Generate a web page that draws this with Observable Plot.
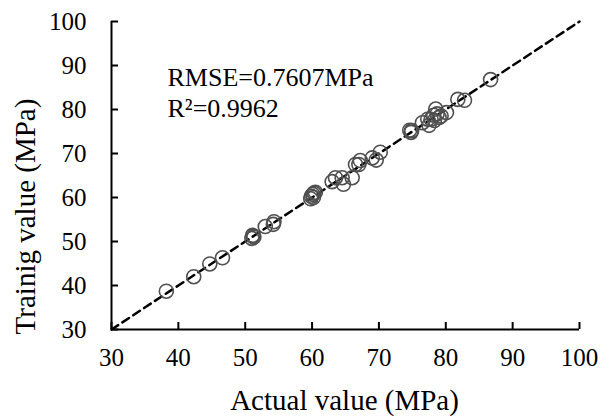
<!DOCTYPE html>
<html>
<head>
<meta charset="utf-8">
<script src="https://cdn.jsdelivr.net/npm/d3@7"></script>
<script src="https://cdn.jsdelivr.net/npm/@observablehq/plot@0.6"></script>
<style>
  html, body { margin: 0; padding: 0; background: #fff; }
  #chart { width: 603px; height: 417px; }
  svg { font-family: "Liberation Serif", "Times New Roman", serif; }
</style>
</head>
<body>
<div id="chart"></div>
<script>
const actual = [38.2, 42.3, 44.7, 46.6, 51.0, 51.2, 51.1, 51.3, 53.0, 54.2, 54.3,
  59.8, 59.9, 60.1, 60.3, 60.5, 60.2, 63.0, 63.5, 64.5, 64.7, 66.0, 66.5, 67.2, 67.0,
  69.0, 69.6, 70.2, 74.6, 74.8, 74.9, 76.5, 77.5, 77.8, 78.2, 78.5, 78.7, 79.0, 79.3,
  80.1, 77.3, 78.3, 81.8, 82.8, 86.7];
const training = [38.7, 42.0, 44.9, 46.3, 50.7, 51.2, 51.4, 51.0, 53.4, 53.9, 54.5,
  59.7, 60.3, 60.7, 61.0, 61.2, 60.0, 63.6, 64.5, 64.5, 63.0, 64.5, 67.5, 68.4, 67.5,
  69.0, 68.5, 70.3, 75.3, 74.8, 75.2, 77.0, 76.4, 77.8, 78.7, 80.1, 79.0, 78.2, 78.5,
  79.3, 77.8, 77.5, 82.3, 82.1, 86.8];
const xTicks = [30, 40, 50, 60, 70, 80, 90, 100];
const yTicks = [30, 40, 50, 60, 70, 80, 90, 100];
const refLine = [30, 100];
const annotations = ["RMSE=0.7607MPa", "R²=0.9962"];
const xLabel = "Actual value (MPa)";
const yLabel = "Trainig value (MPa)";

const points = actual.map((a, i) => ({a, t: training[i]}));

const W = 603, H = 417;
const mL = 111, mR = 24, mT = 21, mB = 88;
const pw = W - mL - mR, ph = H - mT - mB;

const chart = Plot.plot({
  width: W, height: H,
  marginLeft: mL, marginRight: mR, marginTop: mT, marginBottom: mB,
  style: {fontFamily: '"Liberation Serif", "Times New Roman", serif', background: "#fff", overflow: "visible"},
  x: {domain: [30, 100]},
  y: {domain: [30, 100]},
  marks: [
    Plot.line(refLine.map(v => ({v})), {x: "v", y: "v", stroke: "#000", strokeWidth: 2.5, strokeDasharray: "8,5"}),
    Plot.dot(points, {x: "a", y: "t", r: 7, stroke: "#505050", strokeWidth: 1.6, fill: "none"}),
    Plot.ruleX([30], {stroke: "#000", strokeWidth: 2}),
    Plot.ruleY([30], {stroke: "#000", strokeWidth: 2}),
    Plot.tickX(xTicks, {x: d => d, stroke: "#000", strokeWidth: 2, insetTop: ph - 7}),
    Plot.tickY(yTicks, {y: d => d, stroke: "#000", strokeWidth: 2, insetRight: pw - 7}),
    Plot.axisX({ticks: xTicks, tickSize: 0, tickPadding: 19, fontSize: 25, label: null, fill: "#000"}),
    Plot.axisY({ticks: yTicks, tickSize: 0, tickPadding: 25, fontSize: 25, label: null, fill: "#000"}),
    Plot.text([annotations[0]], {frameAnchor: "top-left", dx: 56, dy: 64, text: d => d, fontSize: 26, textAnchor: "start", lineAnchor: "bottom", fill: "#000"}),
    Plot.text([annotations[1]], {frameAnchor: "top-left", dx: 56, dy: 95, text: d => d, fontSize: 26, textAnchor: "start", lineAnchor: "bottom", fill: "#000"}),
    Plot.text([xLabel], {frameAnchor: "bottom", dx: 344 - (mL + pw / 2), dy: 80, text: d => d, fontSize: 29, textAnchor: "middle", lineAnchor: "bottom", fill: "#000"}),
    Plot.text([yLabel], {frameAnchor: "top-left", dx: -86, dy: 216 - mT, text: d => d, fontSize: 29, rotate: -90, textAnchor: "middle", lineAnchor: "middle", fill: "#000"})
  ]
});
document.getElementById("chart").appendChild(chart);
</script>
</body>
</html>
